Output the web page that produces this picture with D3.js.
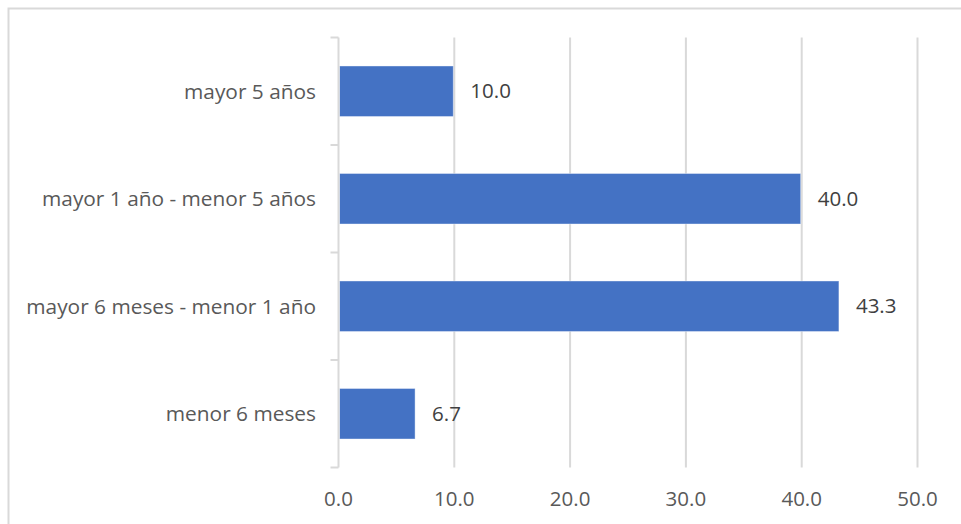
<!DOCTYPE html>
<html>
<head>
<meta charset="utf-8">
<script src="https://cdn.jsdelivr.net/npm/d3@7"></script>
<style>
  html, body { margin: 0; padding: 0; background: #fff; }
  svg { display: block; }
</style>
</head>
<body>
<svg id="chart" width="961" height="524"></svg>
<script>
// Duration groups, listed top to bottom
const categories = [
  "mayor 5 años",
  "mayor 1 año - menor 5 años",
  "mayor 6 meses - menor 1 año",
  "menor 6 meses"
];
// Percentage for each group
const values = [10.0, 40.0, 43.3, 6.7];
// Value-axis ticks
const tickValues = [0, 10, 20, 30, 40, 50];

const svg = d3.select("#chart");
const W = 961, H = 524;
const font = "'Open Sans', sans-serif";
const fontSize = 20.5;
const textColor = "#595959";
const gridColor = "#d9d9d9";
const barColor = "#4472C4";

// Chart frame
svg.append("rect")
  .attr("x", 8.5).attr("y", 8.5)
  .attr("width", W).attr("height", H)
  .attr("fill", "none")
  .attr("stroke", gridColor)
  .attr("stroke-width", 2);

const plot = { left: 338.5, right: 917.5, top: 37.5, bottom: 467.5 };

const x = d3.scaleLinear().domain([0, 50]).range([plot.left, plot.right]);
const y = d3.scaleBand().domain(categories)
  .range([plot.top, plot.bottom])
  .paddingInner(0.53).paddingOuter(0.265);

// Vertical gridlines
svg.append("g")
  .selectAll("line")
  .data(tickValues.slice(1))
  .join("line")
  .attr("x1", d => x(d)).attr("x2", d => x(d))
  .attr("y1", plot.top).attr("y2", plot.bottom)
  .attr("stroke", gridColor)
  .attr("stroke-width", 2);

// Bars
svg.append("g")
  .selectAll("rect")
  .data(values)
  .join("rect")
  .attr("x", x(0) + 1)
  .attr("y", (d, i) => y(categories[i]))
  .attr("width", d => x(d) - x(0) - 2)
  .attr("height", y.bandwidth())
  .attr("fill", barColor)
  .attr("stroke", "#fff")
  .attr("stroke-opacity", 0.4)
  .attr("stroke-width", 1);

// Value labels
svg.append("g")
  .selectAll("text")
  .data(values)
  .join("text")
  .attr("x", d => x(d) + 16)
  .attr("y", (d, i) => y(categories[i]) + y.bandwidth() / 2)
  .attr("dy", "0.35em")
  .attr("font-family", font)
  .attr("font-size", fontSize)
  .attr("fill", "#404040")
  .text(d => d3.format(".1f")(d));

// Category axis with boundary ticks
const yAxis = svg.append("g");
yAxis.append("line")
  .attr("x1", plot.left).attr("x2", plot.left)
  .attr("y1", plot.top).attr("y2", plot.bottom)
  .attr("stroke", gridColor).attr("stroke-width", 2);
const bounds = d3.range(categories.length + 1)
  .map(i => plot.top + i * (plot.bottom - plot.top) / categories.length);
yAxis.selectAll("line.tick")
  .data(bounds)
  .join("line")
  .attr("class", "tick")
  .attr("x1", plot.left - 8).attr("x2", plot.left)
  .attr("y1", d => d).attr("y2", d => d)
  .attr("stroke", gridColor).attr("stroke-width", 2);
yAxis.selectAll("text")
  .data(categories)
  .join("text")
  .attr("x", 316)
  .attr("y", d => y(d) + y.bandwidth() / 2)
  .attr("dy", "0.35em")
  .attr("text-anchor", "end")
  .attr("font-family", font)
  .attr("font-size", 20.85)
  .attr("fill", textColor)
  .text(d => d);

// Value axis tick labels
svg.append("g")
  .selectAll("text")
  .data(tickValues)
  .join("text")
  .attr("x", d => x(d))
  .attr("y", 499)
  .attr("dy", "0.35em")
  .attr("text-anchor", "middle")
  .attr("font-family", font)
  .attr("font-size", fontSize)
  .attr("fill", textColor)
  .text(d => d3.format(".1f")(d));
</script>
</body>
</html>
